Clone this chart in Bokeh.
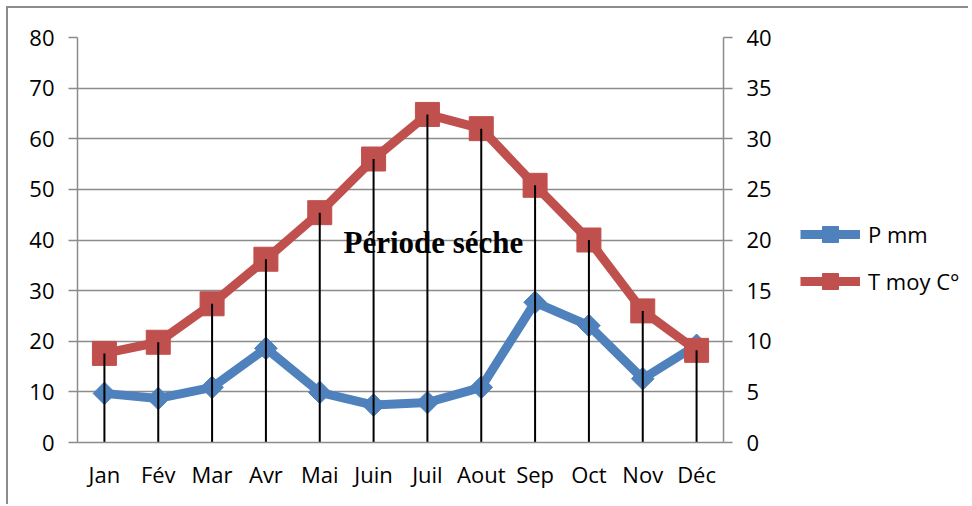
from bokeh.plotting import figure
from bokeh.models import (Range1d, FactorRange, LinearAxis, FixedTicker, Legend,
                          LegendItem, ColumnDataSource)
from bokeh.layouts import row
from bokeh.core.properties import value
from bokeh.embed import file_html
from bokeh.resources import INLINE

months = ["Jan", "Fév", "Mar", "Avr", "Mai", "Juin", "Juil", "Aout", "Sep", "Oct", "Nov", "Déc"]
p_mm = [9.7, 8.7, 10.9, 18.6, 9.9, 7.4, 7.9, 10.9, 27.7, 23.1, 12.6, 19.2]
t_moy = [8.8, 9.9, 13.7, 18.1, 22.7, 28.0, 32.4, 31.0, 25.4, 20.0, 13.0, 9.1]
left_ticks = [0, 10, 20, 30, 40, 50, 60, 70, 80]
right_ticks = [0, 5, 10, 15, 20, 25, 30, 35, 40]
annotation_text = "Période séche"
series_names = ["P mm", "T moy C°"]

BLUE = "#4F81BD"
RED = "#C0504D"
GRID = "#8c8c8c"
FONT = "Open Sans"
FS = "22px"

src = ColumnDataSource(dict(m=months, p=p_mm, t=t_moy, zero=[0] * len(months)))

p = figure(frame_width=646, frame_height=405, x_range=FactorRange(*months, range_padding=0),
           y_range=Range1d(0, 80), output_backend="svg", toolbar_location=None,
           min_border_left=69, min_border_top=29, min_border_right=60, min_border_bottom=62)
p.outline_line_color = None
p.extra_y_ranges = {"right": Range1d(0, 40)}

# axes styling
p.xaxis.axis_line_color = GRID
p.xaxis.axis_line_width = 1.5
p.xaxis.major_tick_line_color = None
p.xaxis.minor_tick_line_color = None
p.xaxis.major_label_standoff = 10
p.xaxis.major_label_text_font = FONT
p.xaxis.major_label_text_font_size = FS
p.xaxis.major_label_text_color = "black"

p.yaxis.ticker = FixedTicker(ticks=left_ticks)
p.yaxis.axis_line_color = GRID
p.yaxis.axis_line_width = 1.5
p.yaxis.major_tick_line_color = GRID
p.yaxis.major_tick_line_width = 1.5
p.yaxis.major_tick_out = 9
p.yaxis.major_tick_in = 0
p.yaxis.minor_tick_line_color = None
p.yaxis.major_label_standoff = 14
p.yaxis.major_label_text_font = FONT
p.yaxis.major_label_text_font_size = FS
p.yaxis.major_label_text_color = "black"

raxis = LinearAxis(y_range_name="right", ticker=FixedTicker(ticks=right_ticks))
raxis.axis_line_color = GRID
raxis.axis_line_width = 1.5
raxis.major_tick_line_color = GRID
raxis.major_tick_line_width = 1.5
raxis.major_tick_out = 9
raxis.major_tick_in = 0
raxis.minor_tick_line_color = None
raxis.major_label_standoff = 14
raxis.major_label_text_font = FONT
raxis.major_label_text_font_size = FS
raxis.major_label_text_color = "black"
p.add_layout(raxis, "right")

p.xgrid.grid_line_color = None
p.ygrid.ticker = FixedTicker(ticks=left_ticks)
p.ygrid.grid_line_color = GRID
p.ygrid.grid_line_width = 1.5

# annotation text
p.text(x=["Juil"], y=[39.6], text=[annotation_text], x_offset=6,
       text_font=value("Liberation Serif"), text_font_style="bold",
       text_font_size="31px", text_align="center", text_baseline="alphabetic",
       text_color="black")

# series
p.line("m", "p", source=src, line_color=BLUE, line_width=9, line_join="round")
p.scatter("m", "p", source=src, marker="square", angle=0.785398, size=16,
          fill_color=BLUE, line_color=BLUE)
p.line("m", "t", source=src, y_range_name="right", line_color=RED, line_width=9,
       line_join="round")
p.scatter("m", "t", source=src, y_range_name="right", marker="square", size=24,
          fill_color=RED, line_color=RED)

# vertical lines (dry period)
p.segment(x0="m", y0="zero", x1="m", y1="t", source=src, y_range_name="right",
          line_color="black", line_width=2)

# legend panel (separate figure so it can sit outside the plot frame)
lg = figure(width=185, height=496, x_range=FactorRange(*months),
            y_range=Range1d(1000, 1001), output_backend="svg", toolbar_location=None,
            x_axis_location=None, y_axis_location=None,
            min_border_left=0, min_border_right=0, min_border_top=0, min_border_bottom=0)
lg.outline_line_color = None
lg.grid.grid_line_color = None
bl = lg.line("m", "p", source=src, line_color=BLUE, line_width=9, line_join="round")
bs = lg.scatter("m", "p", source=src, marker="square", angle=0.785398, size=16,
                fill_color=BLUE, line_color=BLUE)
rl = lg.line("m", "t", source=src, line_color=RED, line_width=9, line_join="round")
rs = lg.scatter("m", "t", source=src, marker="square", size=24,
                fill_color=RED, line_color=RED)
legend = Legend(items=[LegendItem(label=series_names[0], renderers=[bl, bs]),
                       LegendItem(label=series_names[1], renderers=[rl, rs])],
                location=(17, 141), orientation="vertical",
                glyph_width=60, glyph_height=40, label_height=24, spacing=7,
                label_standoff=8, padding=0, margin=0,
                border_line_color=None, background_fill_alpha=0,
                label_text_font=FONT, label_text_font_size=FS, label_text_color="black")
lg.add_layout(legend, "center")

layout = row(p, lg)
layout.styles = {"border-left": "2px solid #8c8c8c", "border-top": "2px solid #8c8c8c",
                 "margin-left": "6px", "margin-top": "6px"}

open("out.html", "w").write(file_html(layout, INLINE))
